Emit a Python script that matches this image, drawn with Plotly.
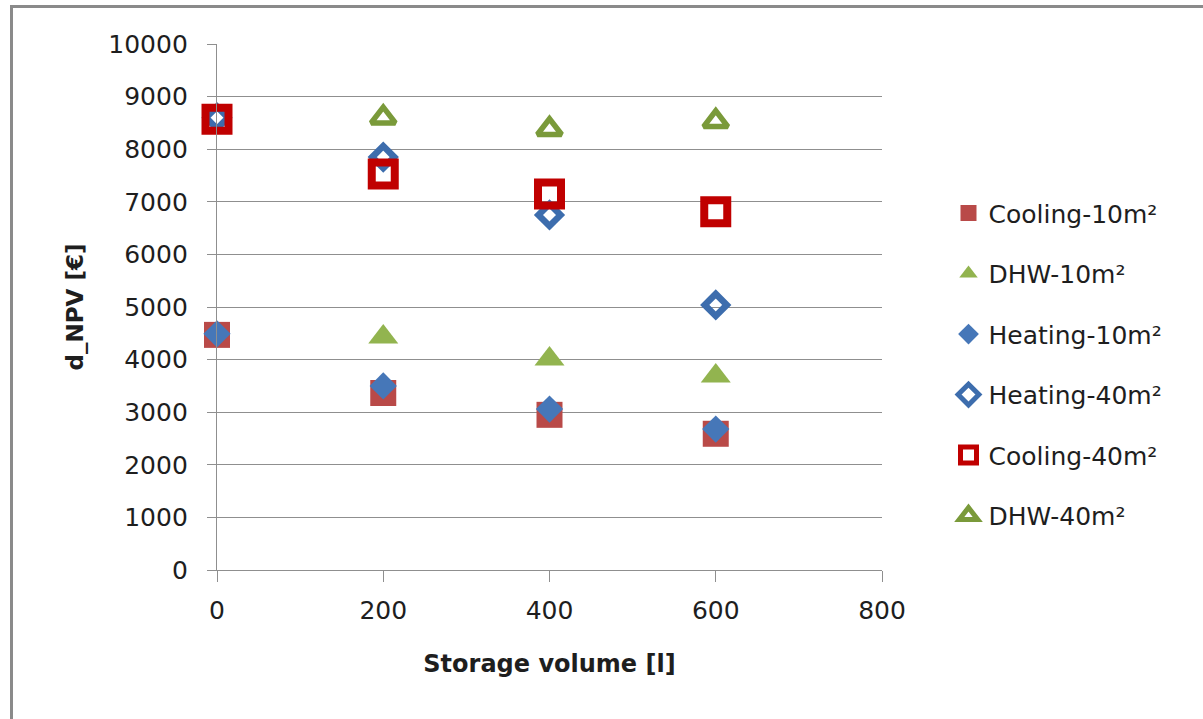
import plotly.graph_objects as go

# Storage volume [l]
volume = [0, 200, 400, 600]
volume_dhw = [200, 400, 600]

# d_NPV [€] per configuration
cooling_10 = [4470, 3365, 2950, 2590]
dhw_10 = [4430, 4010, 3690]
heating_10 = [4490, 3500, 3060, 2680]
heating_40 = [8600, 7850, 6750, 5040]
cooling_40 = [8570, 7530, 7150, 6810]
dhw_40 = [8600, 8380, 8530]

y_ticks = list(range(0, 10001, 1000))
x_ticks = [0, 200, 400, 600, 800]

FONT = "DejaVu Sans"
GRID = "#8f8f8f"

fig = go.Figure()

series = [
    ("Cooling-10m²", volume, cooling_10,
     dict(symbol="square", size=26, color="#B94A48", line=dict(width=0))),
    ("DHW-10m²", volume_dhw, dhw_10,
     dict(symbol="triangle-up", size=26, color="#92B44F", line=dict(width=0))),
    ("Heating-10m²", volume, heating_10,
     dict(symbol="diamond", size=21, color="#4677B8", line=dict(width=0))),
    ("Heating-40m²", volume, heating_40,
     dict(symbol="diamond-open", size=17, color="#3D6DAD", line=dict(width=6.5))),
    ("Cooling-40m²", volume, cooling_40,
     dict(symbol="square-open", size=23, color="#C00000", line=dict(width=8))),
    ("DHW-40m²", volume_dhw, dhw_40,
     dict(symbol="triangle-up-open", size=21, color="#7A9A3A", line=dict(width=5.5))),
]

for name, xs, ys, marker in series:
    fig.add_trace(go.Scatter(
        x=xs, y=ys, mode="markers", name=name, legendgroup=name,
        marker=marker, cliponaxis=False,
    ))

fig.update_layout(
    width=1203, height=719,
    margin=dict(l=217, r=321, t=44, b=149),
    paper_bgcolor="white", plot_bgcolor="white",
    font=dict(family=FONT, size=25, color="#1e1e1e"),
    legend=dict(
        x=1.1, xanchor="left", y=0.391, yanchor="middle",
        font=dict(family=FONT, size=25, color="#1e1e1e"),
        tracegroupgap=25, itemsizing="trace",
        bgcolor="rgba(0,0,0,0)",
    ),
    xaxis=dict(
        range=[0, 800], tickvals=x_ticks, ticktext=[str(v) for v in x_ticks],
        showgrid=False, zeroline=False,
        showline=True, linecolor=GRID, linewidth=1.3,
        ticks="outside", ticklen=11, tickcolor=GRID, tickwidth=1.3,
        ticklabelstandoff=7,
        tickfont=dict(family=FONT, size=25),
        title=dict(text="<b>Storage volume [l]</b>", font=dict(family=FONT, size=24), standoff=31),
    ),
    yaxis=dict(
        range=[0, 10000], tickvals=y_ticks, ticktext=[str(v) for v in y_ticks],
        showgrid=True, gridcolor=GRID, gridwidth=1.3, zeroline=False,
        showline=True, linecolor=GRID, linewidth=1.3,
        ticks="outside", ticklen=9, tickcolor=GRID, tickwidth=1.3,
        ticklabelstandoff=14,
        tickfont=dict(family=FONT, size=25),
        title=dict(text="<b>d_NPV [€]</b>", font=dict(family=FONT, size=23), standoff=18),
    ),
    shapes=[
        # chart-area frame along the top and left edges
        dict(type="line", xref="paper", yref="paper",
             x0=(11.5 - 217) / 665, x1=(1203 - 217) / 665,
             y0=(570 - 6.5) / 526, y1=(570 - 6.5) / 526,
             line=dict(color="#8a8a8a", width=3)),
        dict(type="line", xref="paper", yref="paper",
             x0=(11.5 - 217) / 665, x1=(11.5 - 217) / 665,
             y0=(570 - 5) / 526, y1=(570 - 719) / 526,
             line=dict(color="#8a8a8a", width=3)),
    ],
)

fig.write_html("out.html")
